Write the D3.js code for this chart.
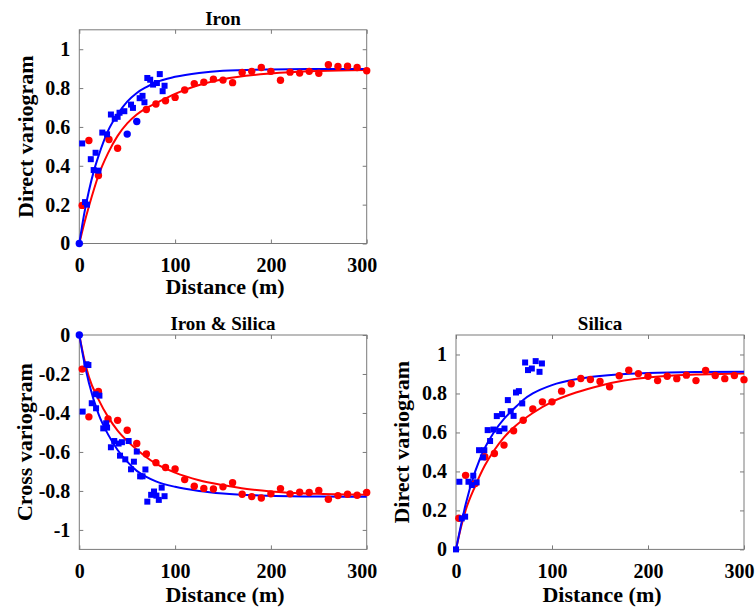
<!DOCTYPE html>
<html>
<head>
<meta charset="utf-8">
<script src="https://cdn.jsdelivr.net/npm/d3@7"></script>
<style>
  html, body { margin: 0; padding: 0; background: #ffffff; }
  svg { display: block; }
  text { font-family: "Liberation Serif", "Times New Roman", serif; font-weight: bold; fill: #000; }
</style>
</head>
<body>
<svg id="chart" width="756" height="609"></svg>
<script>
// ---------------- DATA ----------------
const xTicks = [0, 100, 200, 300];
const yTicksDirect = [0, 0.2, 0.4, 0.6, 0.8, 1];
const yTicksCross = [0, -0.2, -0.4, -0.6, -0.8, -1];

// Panel 1: Iron (direct variogram)
const ironRedPts = [[3,0.196],[10,0.53],[20,0.35],[31,0.535],[40,0.49],[70,0.69],[80,0.718],[90,0.735],[100,0.752],[110,0.79],[120,0.823],[130,0.83],[140,0.846],[150,0.841],[160,0.828],[170,0.88],[180,0.886],[190,0.906],[200,0.886],[210,0.84],[220,0.882],[230,0.877],[240,0.886],[250,0.876],[260,0.92],[270,0.911],[280,0.913],[290,0.906],[300,0.889]];
const ironBlueSq = [[3,0.515],[6,0.213],[8,0.2],[12,0.434],[15,0.378],[17,0.467],[20,0.375],[24,0.571],[29,0.562],[33,0.664],[37,0.642],[40,0.652],[42,0.673],[47,0.681],[54,0.715],[56,0.698],[63,0.748],[66,0.76],[68,0.727],[71,0.852],[74,0.843],[77,0.818],[81,0.826],[84,0.872],[87,0.784],[89,0.812]];
const ironBlueCirc = [[0,0],[50,0.563],[60,0.628]];
const ironRedCurve = [[0,0],[5,0.1],[10,0.19],[20,0.35],[30,0.465],[40,0.554],[50,0.618],[60,0.664],[70,0.697],[80,0.722],[100,0.77],[120,0.808],[150,0.845],[200,0.875],[250,0.888],[300,0.893]];
const ironBlueCurve = [[0,0],[5,0.15],[10,0.27],[15,0.37],[20,0.45],[30,0.58],[40,0.665],[50,0.73],[60,0.775],[70,0.805],[80,0.83],[100,0.858],[125,0.878],[150,0.889],[200,0.896],[250,0.898],[300,0.898]];

// Panel 2: Iron & Silica (cross variogram)
const crossRedPts = [[3,-0.175],[10,-0.42],[20,-0.29],[30,-0.431],[40,-0.438],[50,-0.489],[60,-0.557],[70,-0.61],[80,-0.655],[90,-0.68],[100,-0.687],[110,-0.742],[120,-0.776],[130,-0.787],[140,-0.79],[150,-0.779],[160,-0.758],[170,-0.817],[180,-0.829],[190,-0.836],[200,-0.815],[210,-0.788],[220,-0.815],[230,-0.807],[240,-0.808],[250,-0.798],[260,-0.843],[270,-0.824],[280,-0.817],[290,-0.822],[300,-0.808]];
const crossBlueSq = [[3.5,-0.393],[7.5,-0.15],[9.5,-0.154],[13,-0.35],[17,-0.304],[17.5,-0.376],[21,-0.311],[25,-0.479],[28,-0.453],[29,-0.475],[33,-0.576],[36.5,-0.544],[41,-0.557],[42.5,-0.619],[44.5,-0.55],[48,-0.638],[51.5,-0.544],[54,-0.689],[57,-0.65],[60,-0.598],[63.5,-0.725],[66,-0.725],[69,-0.69],[71,-0.855],[75,-0.82],[78,-0.803],[80.5,-0.824],[83,-0.846],[86,-0.783],[89,-0.827]];
const crossBlueCirc = [[0,0]];
const crossRedCurve = [[0,0],[5,-0.12],[10,-0.215],[20,-0.33],[30,-0.42],[40,-0.49],[50,-0.543],[60,-0.588],[70,-0.627],[80,-0.66],[100,-0.706],[125,-0.745],[150,-0.77],[175,-0.79],[200,-0.803],[250,-0.815],[300,-0.82]];
const crossBlueCurve = [[0,0],[5,-0.135],[10,-0.245],[20,-0.405],[30,-0.51],[40,-0.59],[50,-0.65],[60,-0.697],[70,-0.728],[80,-0.751],[100,-0.779],[125,-0.8],[150,-0.813],[200,-0.825],[250,-0.829],[300,-0.83]];

// Panel 3: Silica (direct variogram)
const silicaRedPts = [[3,0.16],[10,0.38],[20,0.338],[30,0.475],[40,0.492],[50,0.535],[60,0.609],[70,0.663],[80,0.72],[90,0.757],[100,0.757],[110,0.812],[120,0.85],[130,0.877],[140,0.872],[150,0.862],[160,0.834],[170,0.891],[180,0.919],[190,0.902],[200,0.888],[210,0.866],[220,0.888],[230,0.876],[240,0.894],[250,0.866],[260,0.918],[270,0.892],[280,0.876],[290,0.892],[300,0.871]];
const silicaBlueSq = [[0,0],[3.5,0.347],[6,0.159],[9.5,0.168],[13,0.347],[16.5,0.33],[18,0.378],[21.5,0.344],[24,0.509],[28,0.472],[29.5,0.509],[33,0.612],[35.5,0.556],[39,0.615],[42.5,0.684],[45,0.607],[48,0.694],[50.5,0.62],[54,0.766],[57,0.709],[60,0.685],[62.5,0.805],[65.5,0.812],[69,0.749],[72,0.959],[75,0.92],[79,0.928],[83,0.966],[87,0.911],[89.5,0.954]];
const silicaRedCurve = [[0,0],[5,0.11],[10,0.2],[20,0.325],[30,0.43],[40,0.51],[50,0.575],[60,0.625],[70,0.665],[80,0.7],[100,0.757],[125,0.805],[150,0.84],[175,0.866],[200,0.882],[250,0.897],[300,0.903]];
const silicaBlueCurve = [[0,0],[5,0.12],[10,0.23],[20,0.4],[30,0.52],[40,0.605],[50,0.67],[60,0.72],[70,0.767],[80,0.8],[100,0.843],[125,0.873],[150,0.89],[200,0.905],[250,0.91],[300,0.911]];

// ---------------- LAYOUT ----------------
const RED = "#ff0000", BLUE = "#0000ff", BOX = "#7a7a7a";
const panels = [
  { title: "Iron", ylabel: "Direct variogram", xlabel: "Distance (m)",
    box: {l: 79.3, r: 366.7, t: 29.8, b: 243.5}, ydom: [0, 1.1], yticks: yTicksDirect,
    redPts: ironRedPts, blueSq: ironBlueSq, blueCirc: ironBlueCirc,
    redCurve: ironRedCurve, blueCurve: ironBlueCurve, ylabX: 33, xlabOff: 50.5 },
  { title: "Iron & Silica", ylabel: "Cross variogram", xlabel: "Distance (m)",
    box: {l: 79.3, r: 366.7, t: 335, b: 549.4}, ydom: [-1.1, 0], yticks: yTicksCross,
    redPts: crossRedPts, blueSq: crossBlueSq, blueCirc: crossBlueCirc,
    redCurve: crossRedCurve, blueCurve: crossBlueCurve, ylabX: 32, xlabOff: 52.5 },
  { title: "Silica", ylabel: "Direct variogram", xlabel: "Distance (m)",
    box: {l: 456, r: 744, t: 335, b: 549.4}, ydom: [0, 1.1], yticks: yTicksDirect,
    redPts: silicaRedPts, blueSq: silicaBlueSq, blueCirc: [],
    redCurve: silicaRedCurve, blueCurve: silicaBlueCurve, ylabX: 409, xlabOff: 52.5 }
];

const svg = d3.select("#chart");
const fmt = d => String(d);

panels.forEach(p => {
  const x = d3.scaleLinear().domain([0, 300]).range([p.box.l, p.box.r]);
  const y = d3.scaleLinear().domain(p.ydom).range([p.box.b, p.box.t]);
  const g = svg.append("g");

  // axes (ticks inward on all four sides)
  const axB = g.append("g").attr("transform", `translate(0,${p.box.b})`)
    .call(d3.axisBottom(x).tickValues(xTicks).tickFormat(fmt).tickSize(-4).tickPadding(14));
  const axT = g.append("g").attr("transform", `translate(0,${p.box.t})`)
    .call(d3.axisTop(x).tickValues(xTicks).tickFormat("").tickSize(-4));
  const axL = g.append("g").attr("transform", `translate(${p.box.l},0)`)
    .call(d3.axisLeft(y).tickValues(p.yticks).tickFormat(fmt).tickSize(-4).tickPadding(9));
  const axR = g.append("g").attr("transform", `translate(${p.box.r},0)`)
    .call(d3.axisRight(y).tickValues(p.yticks).tickFormat("").tickSize(-4));
  [axB, axT, axL, axR].forEach(a => {
    a.attr("font-family", null);
    a.select(".domain").remove();
    a.selectAll(".tick line").attr("stroke", BOX);
    a.selectAll(".tick text").attr("font-size", 20).attr("fill", "#000")
      .style("font-family", '"Liberation Serif", "Times New Roman", serif').style("font-weight", "bold");
  });
  // last x label sits slightly inside, as in the reference
  axB.selectAll(".tick text").filter(d => d === xTicks[xTicks.length - 1]).attr("dx", -5);

  g.append("rect").attr("x", p.box.l).attr("y", p.box.t)
    .attr("width", p.box.r - p.box.l).attr("height", p.box.b - p.box.t)
    .attr("fill", "none").attr("stroke", BOX).attr("stroke-width", 1);

  // model curves
  const line = d3.line().x(d => x(d[0])).y(d => y(d[1])).curve(d3.curveMonotoneX);
  g.append("path").datum(p.redCurve).attr("d", line)
    .attr("fill", "none").attr("stroke", RED).attr("stroke-width", 2);
  g.append("path").datum(p.blueCurve).attr("d", line)
    .attr("fill", "none").attr("stroke", BLUE).attr("stroke-width", 2);

  // experimental points
  g.append("g").selectAll("circle").data(p.redPts).join("circle")
    .attr("cx", d => x(d[0])).attr("cy", d => y(d[1])).attr("r", 3.7).attr("fill", RED);
  const s = 6;
  g.append("g").selectAll("rect").data(p.blueSq).join("rect")
    .attr("x", d => x(d[0]) - s / 2).attr("y", d => y(d[1]) - s / 2)
    .attr("width", s).attr("height", s).attr("fill", BLUE);
  g.append("g").selectAll("circle").data(p.blueCirc).join("circle")
    .attr("cx", d => x(d[0])).attr("cy", d => y(d[1])).attr("r", 3.7).attr("fill", BLUE);

  // texts
  const cx = (p.box.l + p.box.r) / 2, cy = (p.box.t + p.box.b) / 2;
  g.append("text").attr("x", cx).attr("y", p.box.t - 5).attr("text-anchor", "middle")
    .attr("font-size", 19).text(p.title);
  g.append("text").attr("x", cx + 2).attr("y", p.box.b + p.xlabOff).attr("text-anchor", "middle")
    .attr("font-size", 22).text(p.xlabel);
  g.append("text").attr("transform", `translate(${p.ylabX},${cy}) rotate(-90)`)
    .attr("text-anchor", "middle").attr("font-size", 22).text(p.ylabel);
});
</script>
</body>
</html>
